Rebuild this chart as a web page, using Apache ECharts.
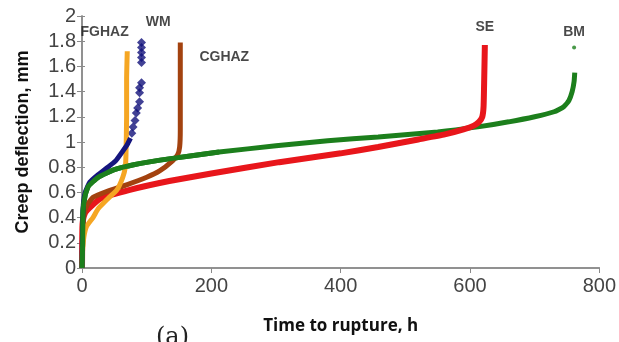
<!DOCTYPE html>
<html>
<head>
<meta charset="utf-8">
<script src="https://cdn.jsdelivr.net/npm/echarts@6/dist/echarts.min.js"></script>
<style>
  html, body { margin: 0; padding: 0; background: #fff; }
  #chart { width: 619px; height: 342px; }
</style>
</head>
<body>
<div id="chart"></div>
<script>
  // creep curves: time (h) / deflection (mm)
  const feTime = [0, 1, 3, 7, 17, 25, 40, 54, 63, 67, 68, 69, 69, 70]
  const feDefl = [0, 0.15, 0.25, 0.33, 0.40, 0.47, 0.55, 0.62, 0.72, 0.80, 0.90, 1.20, 1.50, 1.72]

  const wmTime = [0, 1, 2, 5, 12, 25, 40, 52, 62, 70, 75]
  const wmDefl = [0, 0.35, 0.50, 0.60, 0.68, 0.74, 0.80, 0.85, 0.92, 0.98, 1.03]
  const wmDotTime = [77, 79, 82, 84, 86, 89, 89, 89, 92, 92, 92, 92, 92, 92]
  const wmDotDefl = [1.07, 1.12, 1.17, 1.23, 1.27, 1.32, 1.39, 1.43, 1.47, 1.63, 1.67, 1.71, 1.75, 1.79]

  const cgTime = [0, 1, 3, 8, 17, 40, 69, 100, 120, 140, 148, 151, 152, 152, 152]
  const cgDefl = [0, 0.30, 0.42, 0.50, 0.56, 0.61, 0.66, 0.72, 0.77, 0.85, 0.90, 0.96, 1.10, 1.40, 1.79]

  const seTime = [0, 0.5, 1.5, 5, 12, 28, 74, 135, 200, 305, 400, 458, 520, 561, 590, 606, 614, 619, 621, 622, 623]
  const seDefl = [0, 0.30, 0.38, 0.44, 0.48, 0.55, 0.62, 0.69, 0.75, 0.84, 0.91, 0.96, 1.02, 1.06, 1.10, 1.13, 1.16, 1.20, 1.28, 1.50, 1.77]

  const bmTime = [0, 1, 1.5, 5, 10, 25, 50, 80, 140, 212, 300, 380, 458, 550, 612, 660, 700, 730, 745, 753, 758, 761, 762]
  const bmDefl = [0, 0.20, 0.45, 0.58, 0.65, 0.72, 0.78, 0.82, 0.87, 0.92, 0.97, 1.01, 1.04, 1.08, 1.12, 1.16, 1.20, 1.24, 1.28, 1.33, 1.40, 1.48, 1.55]
  const bmDot = [761, 1.75]

  // curve names placed in data space
  const tagNames = ['FGHAZ', 'WM', 'CGHAZ', 'SE', 'BM']
  const tagTime = [35, 118, 220, 623, 761]
  const tagDefl = [1.87, 1.95, 1.67, 1.91, 1.87]

  const xTicks = [0, 200, 400, 600, 800]
  const yTicks = [0, 0.2, 0.4, 0.6, 0.8, 1, 1.2, 1.4, 1.6, 1.8, 2]

  const zip = (a, b) => a.map((v, i) => [v, b[i]])

  let chart = echarts.init(document.getElementById('chart'))

  const lineSeries = (name, t, d, color, width) => ({
    name: name,
    type: 'line',
    data: zip(t, d),
    symbol: 'none',
    smooth: 0.15,
    lineStyle: { color: color, width: width }
  })

  let options = {
    animation: false,
    grid: { left: 82, right: 17, top: 16, bottom: 74 },
    xAxis: [{
      type: 'value',
      min: xTicks[0],
      max: xTicks[xTicks.length - 1],
      interval: 200,
      name: 'Time to rupture, h',
      nameLocation: 'middle',
      nameGap: 50,
      nameTextStyle: { fontFamily: 'Open Sans', fontWeight: 'bold', fontSize: 17, color: '#111' },
      axisLine: { lineStyle: { color: '#8a8a8a', width: 1.5 } },
      axisTick: { show: true, length: 5, lineStyle: { color: '#8a8a8a' } },
      axisLabel: { fontFamily: 'Liberation Sans', fontSize: 20, color: '#444', margin: 8 },
      splitLine: { show: false }
    }, {
      type: 'value',
      position: 'top',
      min: 0, max: 800, interval: 200,
      axisLine: { show: true, lineStyle: { color: '#8a8a8a', width: 1.5 } },
      axisTick: { show: false },
      axisLabel: { show: false },
      splitLine: { show: false }
    }],
    yAxis: [{
      type: 'value',
      min: yTicks[0],
      max: yTicks[yTicks.length - 1],
      interval: 0.2,
      name: 'Creep deflection, mm',
      nameLocation: 'middle',
      nameGap: 50,
      nameTextStyle: { fontFamily: 'Liberation Sans', fontWeight: 'bold', fontSize: 18, color: '#111' },
      axisLine: { show: true, lineStyle: { color: '#8a8a8a', width: 1.5 } },
      axisTick: { show: true, length: 5, lineStyle: { color: '#8a8a8a' } },
      axisLabel: {
        fontFamily: 'Liberation Sans', fontSize: 20, color: '#444', margin: 6,
        formatter: v => String(+v.toFixed(1))
      },
      splitLine: { show: false }
    }, {
      type: 'value',
      position: 'right',
      min: 0, max: 2, interval: 0.2,
      axisLine: { show: true, lineStyle: { color: '#8a8a8a', width: 1.5 } },
      axisTick: { show: true, length: 3, lineStyle: { color: '#8a8a8a' } },
      axisLabel: { show: false },
      splitLine: { show: false }
    }],
    series: [
      lineSeries('BM', bmTime, bmDefl, '#1c7f1c', 5),
      lineSeries('SE', seTime, seDefl, '#e8161b', 6),
      lineSeries('CGHAZ', cgTime, cgDefl, '#a3420f', 5),
      lineSeries('FGHAZ', feTime, feDefl, '#f5a623', 5),
      lineSeries('WM', wmTime, wmDefl, '#15157e', 5),
      {
        name: 'WM points',
        type: 'scatter',
        data: zip(wmDotTime, wmDotDefl),
        symbol: 'diamond',
        symbolSize: 9,
        itemStyle: { color: '#12127a' }
      },
      lineSeries('BM', bmTime.slice(0, 10), bmDefl.slice(0, 10), '#1c7f1c', 5),
      {
        name: 'BM end',
        type: 'scatter',
        data: [bmDot],
        symbolSize: 4,
        itemStyle: { color: '#1c7f1c' }
      },
      {
        name: 'tags',
        type: 'scatter',
        data: zip(tagTime, tagDefl).map((p, i) => ({ value: p, name: tagNames[i] })),
        symbolSize: 0,
        label: {
          show: true,
          position: 'inside',
          formatter: p => p.name,
          fontFamily: 'Liberation Sans',
          fontWeight: 'bold',
          fontSize: 14,
          color: '#1a1a1a'
        }
      }
    ],
    graphic: [{
      type: 'text',
      left: 156,
      top: 326,
      style: { text: '(a)', fontFamily: 'DejaVu Serif', fontSize: 24, fill: '#222' }
    }]
  }
  chart.setOption(options)
</script>
</body>
</html>
